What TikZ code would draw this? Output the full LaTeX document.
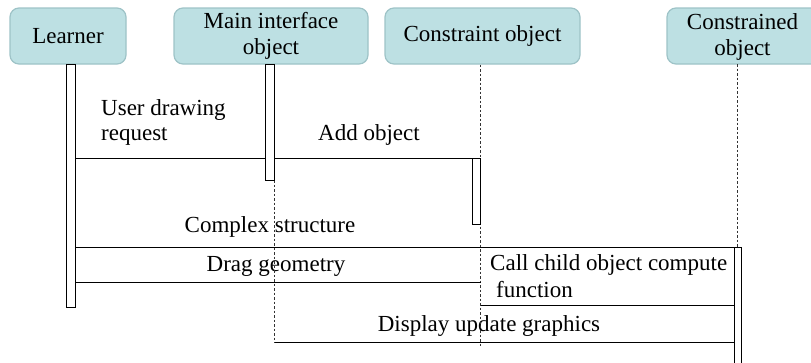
\documentclass[tikz,border=0pt]{standalone}
\usepackage{fontspec}
\setmainfont{Liberation Serif}
\definecolor{boxfill}{HTML}{BDE0E3}
\definecolor{boxborder}{HTML}{9EC3C7}
\begin{document}
\begin{tikzpicture}[x=1pt,y=-1pt,
  actor/.style={draw=boxborder, fill=boxfill, rounded corners=9pt, line width=1.2pt, minimum height=56pt, align=center, inner sep=0pt, font=\fontsize{23}{26}\selectfont},
  lbl/.style={inner sep=0pt, font=\fontsize{23}{26}\selectfont},
  msg/.style={line width=1pt},
  life/.style={line width=0.9pt, dash pattern=on 2.5pt off 2pt, black!80},
  bar/.style={draw, fill=white, line width=1pt, anchor=north west, inner sep=0pt}]
\useasboundingbox (0,0) rectangle (811,362);
\clip (0,0) rectangle (811,362);

\node[actor, minimum width=116pt] (learner) at (68,36) {Learner};
\node[actor, minimum width=194pt] (main) at (271,36) {Main interface\\object};
\node[actor, minimum width=195pt] (cons) at (482.5,36) {Constraint object};
\node[actor, minimum width=165pt] (cond) at (749.5,36) {};
\node[lbl, align=center] (condlbl) at (742.5,37) {Constrained\\object};

\node[lbl, anchor=base west] (t1) at (101,115) {User drawing};
\node[lbl, anchor=base west] (t1b) at (101,140) {request};
\node[lbl, anchor=base west] (t2) at (318,140) {Add object};
\node[lbl, anchor=base] (t3) at (270,232) {Complex structure};
\node[lbl, anchor=base] (t4) at (276,271) {Drag geometry};
\node[lbl, anchor=base west] (t5) at (490,270) {Call child object compute};
\node[lbl, anchor=base west] (t5b) at (496,297) {function};
\node[lbl, anchor=base] (t6) at (489,331) {Display update graphics};

\coordinate (y1) at (0,158);
\coordinate (y2) at (0,247);
\coordinate (y3) at (0,282);
\coordinate (y4) at (0,305);
\coordinate (y5) at (0,342);

% lifelines
\draw[life] (cons.south) ++(-2.5,0) coordinate (cl) -- (480,348) coordinate (clend);
\draw[life] (274,180) coordinate (ml) -- (274,343) coordinate (mlend);
\draw[life] (737,64) coordinate (dl) -- (737,247) coordinate (dlend);

% activation bars
\node[bar, minimum width=9pt, minimum height=243pt] (lbar) at (66,64) {};
\node[bar, minimum width=9pt, minimum height=116pt] (mbar) at (265,64) {};
\node[bar, minimum width=8pt, minimum height=66pt] (cbar) at (472,158) {};
\node[bar, minimum width=7pt, minimum height=130pt] (dbar) at (734,247) {};

% messages
\draw[msg] (lbar.east |- y1) -- (mbar.west |- y1);
\draw[msg] (mbar.east |- y1) -- (cbar.west |- y1);
\draw[msg] (lbar.east |- y2) -- (dbar.east |- y2);
\draw[msg] (lbar.east |- y3) -- (cbar.east |- y3);
\draw[msg] (cbar.east |- y4) -- (dbar.west |- y4);
\draw[msg] (mbar.east |- y5) -- (dbar.west |- y5);
\end{tikzpicture}
\end{document}
